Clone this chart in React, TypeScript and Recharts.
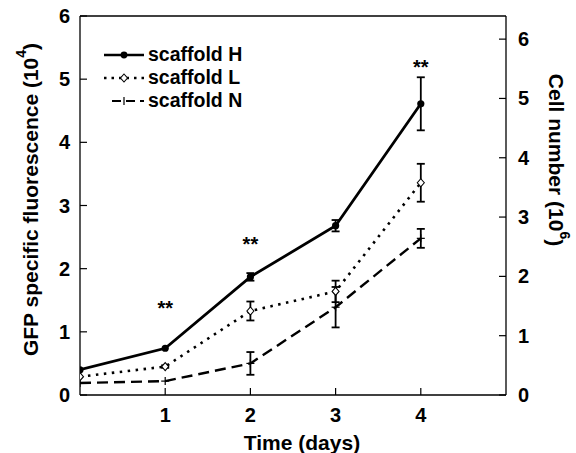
import React from 'react';
import { LineChart, Line, XAxis, YAxis, ErrorBar, ReferenceLine, ReferenceDot } from 'recharts';

const days = [0, 1, 2, 3, 4];
const hMean = [0.40, 0.74, 1.87, 2.68, 4.61];
const hErr = [0.0, 0.0, 0.06, 0.09, 0.42];
const lMean = [0.29, 0.45, 1.33, 1.64, 3.36];
const lErr = [0.0, 0.02, 0.15, 0.17, 0.30];
const nMean = [0.19, 0.22, 0.50, 1.39, 2.48];
const nErr = [0.0, 0.0, 0.18, 0.32, 0.15];

const leftTicks = [0, 1, 2, 3, 4, 5, 6];
const rightTicks = [0, 1, 2, 3, 4, 5, 6];
const xTicks = [1, 2, 3, 4];

const sigDays = [1, 2, 4];
const sigLevels = [1.38, 2.39, 5.19];
const sigText = ['**', '**', '**'];

const seriesNames = ['scaffold H', 'scaffold L', 'scaffold N'];

const data = days.map((d, i) => ({
  day: d,
  h: hMean[i], hE: hErr[i],
  l: lMean[i], lE: lErr[i],
  n: nMean[i], nE: nErr[i],
}));

const FONT = '"Liberation Sans", Arial, sans-serif';

const LeftTick = (p: any) => (
  <g>
    <line x1={p.x} x2={p.x + 7} y1={p.y} y2={p.y} stroke="#000" strokeWidth={1.2} />
    <text x={p.x - 10} y={p.y} textAnchor="end" dominantBaseline="central" fontFamily={FONT} fontWeight="bold" fontSize={20} fill="#000">
      {p.payload.value}
    </text>
  </g>
);

const RightTick = (p: any) => (
  <g>
    <line x1={p.x} x2={p.x - 7} y1={p.y} y2={p.y} stroke="#000" strokeWidth={1.2} />
    <text x={p.x + 12} y={p.y} textAnchor="start" dominantBaseline="central" fontFamily={FONT} fontWeight="bold" fontSize={20} fill="#000">
      {p.payload.value}
    </text>
  </g>
);

const BottomTick = (p: any) => (
  <g>
    <line x1={p.x} x2={p.x} y1={p.y} y2={p.y - 7} stroke="#000" strokeWidth={1.2} />
    <text x={p.x} y={p.y + 20} textAnchor="middle" dominantBaseline="central" fontFamily={FONT} fontWeight="bold" fontSize={20} fill="#000">
      {p.payload.value}
    </text>
  </g>
);

const HDot = (p: any) => <circle cx={p.cx} cy={p.cy} r={3.6} fill="#000" stroke="none" />;
const LDot = (p: any) => (
  <path d={`M${p.cx},${p.cy - 4}L${p.cx + 3.5},${p.cy}L${p.cx},${p.cy + 4}L${p.cx - 3.5},${p.cy}Z`} fill="#fff" stroke="#000" strokeWidth={1.1} />
);
const NDot = (p: any) => (
  <g>
    <line x1={p.cx - 4} x2={p.cx + 4} y1={p.cy} y2={p.cy} stroke="#000" strokeWidth={1.2} />
    <line x1={p.cx} x2={p.cx} y1={p.cy - 4} y2={p.cy + 4} stroke="#000" strokeWidth={1.2} />
  </g>
);

const legendStyles = [
  { dash: undefined, w: 2.6, marker: 'h' },
  { dash: '2.5 5', w: 2.4, marker: 'l' },
  { dash: '9 5', w: 2.0, marker: 'n' },
];

const LegendBox = () => (
  <div style={{ position: 'absolute', left: 102, top: 43, fontFamily: FONT, fontWeight: 'bold', fontSize: 19.5, lineHeight: '23px' }}>
    {seriesNames.map((name, i) => {
      const s = legendStyles[i];
      return (
        <div key={name} style={{ display: 'flex', alignItems: 'center', height: 23 }}>
          <svg width={44} height={14} style={{ marginRight: 2 }}>
            <line x1={i === 2 ? 10 : 2} x2={42} y1={7} y2={7} stroke="#000" strokeWidth={s.w} strokeDasharray={s.dash} />
            {s.marker === 'h' && <circle cx={22} cy={7} r={3.4} fill="#000" />}
            {s.marker === 'l' && <path d="M22,3L25.5,7L22,11L18.5,7Z" fill="#fff" stroke="#000" strokeWidth={1.1} />}
            {s.marker === 'n' && <line x1={22} x2={22} y1={3} y2={11} stroke="#000" strokeWidth={1.2} />}
          </svg>
          <span>{name}</span>
        </div>
      );
    })}
  </div>
);

const LeftLabel = (p: any) => {
  const vb = p.viewBox;
  const cx = 30;
  const cy = vb.y + vb.height / 2 - 6;
  return (
    <text transform={`translate(${cx},${cy}) rotate(-90)`} textAnchor="middle" dominantBaseline="central" fontFamily={FONT} fontWeight="bold" fontSize={21} fill="#000">
      GFP specific fluorescence (10<tspan dy={-9} fontSize={14}>4</tspan><tspan dy={9}>)</tspan>
    </text>
  );
};

const RightLabel = () => {
  const cx = 556;
  const cy = 160;
  return (
    <text transform={`translate(${cx},${cy}) rotate(90)`} textAnchor="middle" dominantBaseline="central" fontFamily={FONT} fontWeight="bold" fontSize={21} fill="#000">
      Cell number (10<tspan dy={-9} fontSize={14}>6</tspan><tspan dy={9}>)</tspan>
    </text>
  );
};

const BottomLabel = (p: any) => {
  const vb = p.viewBox;
  return (
    <text x={vb.x + vb.width / 2 + 9} y={442} textAnchor="middle" dominantBaseline="central" fontFamily={FONT} fontWeight="bold" fontSize={21} fill="#000">
      Time (days)
    </text>
  );
};

export default function App() {
  return (
    <div style={{ position: 'absolute', left: 0, top: 0, width: 576, height: 453, background: '#fff' }}>
      <LineChart width={576} height={453} data={data} margin={{ top: 16, right: 0, bottom: 0, left: 0 }}>
        <XAxis dataKey="day" type="number" domain={[0, 5]} ticks={xTicks} height={58} tickSize={0} tickMargin={0}
          tick={<BottomTick />} axisLine={{ stroke: '#000', strokeWidth: 1.3 }} tickLine={false}
          label={{ content: <BottomLabel /> }} allowDataOverflow />
        <YAxis yAxisId="left" orientation="left" domain={[0, 6]} ticks={leftTicks} width={80} tickSize={0} tickMargin={0}
          tick={<LeftTick />} axisLine={{ stroke: '#000', strokeWidth: 1.3 }} tickLine={false}
          label={{ content: <LeftLabel /> }} />
        <YAxis yAxisId="right" orientation="right" domain={[0, 6.39]} ticks={rightTicks} width={70} tickSize={0} tickMargin={0}
          tick={<RightTick />} axisLine={{ stroke: '#000', strokeWidth: 1.3 }} tickLine={false}
          label={{ content: <RightLabel /> }} allowDataOverflow />
        <ReferenceLine yAxisId="left" y={6} stroke="#000" strokeWidth={1.3} />
        <Line yAxisId="left" dataKey="n" stroke="#000" strokeWidth={2.4} strokeDasharray="11 6" dot={<NDot />} activeDot={false} isAnimationActive={false}>
          <ErrorBar dataKey="nE" direction="y" width={4} stroke="#000" strokeWidth={1.8} />
        </Line>
        <Line yAxisId="left" dataKey="l" stroke="#000" strokeWidth={2.6} strokeDasharray="2.5 5.5" dot={<LDot />} activeDot={false} isAnimationActive={false}>
          <ErrorBar dataKey="lE" direction="y" width={4} stroke="#000" strokeWidth={1.8} />
        </Line>
        <Line yAxisId="left" dataKey="h" stroke="#000" strokeWidth={2.8} dot={<HDot />} activeDot={false} isAnimationActive={false}>
          <ErrorBar dataKey="hE" direction="y" width={4} stroke="#000" strokeWidth={1.8} />
        </Line>
        {sigDays.map((d, i) => (
          <ReferenceDot key={d} yAxisId="left" x={d} y={sigLevels[i]} r={0} stroke="none" fill="none"
            label={{ value: sigText[i], position: 'center', fontFamily: FONT, fontWeight: 'bold', fontSize: 20, fill: '#000' }} />
        ))}
      </LineChart>
      <LegendBox />
    </div>
  );
}
